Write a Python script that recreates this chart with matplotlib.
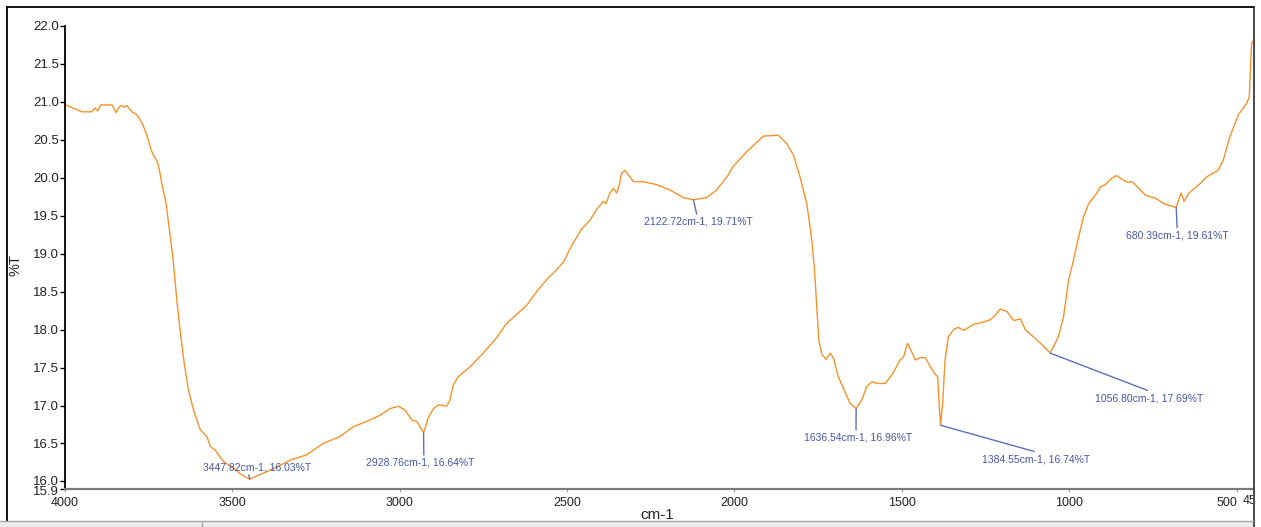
import matplotlib
matplotlib.use("Agg")
import matplotlib.pyplot as plt
from matplotlib.lines import Line2D
from matplotlib.patches import Rectangle
from matplotlib.transforms import Bbox, TransformedBbox, ScaledTranslation

plt.rcParams['font.family'] = ['Liberation Sans', 'DejaVu Sans']

# FT-IR spectrum (wavenumber in cm-1, transmittance in %T)
wavenumber = [
    3997, 3950, 3920, 3910, 3903, 3893, 3860, 3847, 3837, 3830, 3823, 3815,
    3800, 3785, 3770, 3762, 3754, 3743, 3736, 3724, 3717, 3711, 3698, 3688, 3678, 3666,
    3656, 3644, 3631, 3616, 3596, 3576, 3566, 3551, 3526, 3496, 3470, 3447.82,
    3407, 3367, 3328, 3278, 3229, 3179, 3139, 3099, 3059, 3029, 3004, 2984,
    2964, 2949, 2928.76, 2914, 2899, 2884, 2860, 2850, 2840, 2825, 2790, 2751,
    2711, 2681, 2651, 2621, 2591, 2561, 2531, 2511, 2486, 2456, 2432, 2412,
    2392, 2384, 2372, 2362, 2352, 2344, 2337, 2327, 2317, 2302, 2273, 2233,
    2193, 2153, 2122.72, 2083, 2053, 2018, 2004, 1964, 1914, 1869, 1844, 1824,
    1804, 1784, 1769, 1761, 1754, 1748, 1739, 1726, 1714, 1704, 1690, 1675,
    1655, 1636.54, 1620, 1605, 1590, 1570, 1550, 1530, 1505, 1495, 1483, 1473,
    1460, 1445, 1430, 1415, 1402, 1393, 1388, 1384.55, 1378, 1371, 1361, 1345,
    1333, 1315, 1285, 1256, 1236, 1221, 1206, 1186, 1166, 1146, 1131, 1106,
    1081, 1056.80, 1032, 1017, 1002, 987, 972, 957, 942, 922, 907, 892,
    877, 859, 842, 827, 812, 792, 772, 742, 718, 698, 680.39, 666,
    657, 642, 610, 590, 555, 540, 520, 495, 470, 462, 458, 455, 451,
]
transmittance = [
    20.96, 20.87, 20.87, 20.92, 20.88, 20.96, 20.96, 20.86, 20.94, 20.95, 20.93, 20.95,
    20.87, 20.83, 20.72, 20.64, 20.54, 20.37, 20.30, 20.21, 20.08, 19.93, 19.66, 19.31, 18.96, 18.39,
    17.99, 17.56, 17.20, 16.94, 16.68, 16.59, 16.46, 16.41, 16.26, 16.17, 16.08, 16.03,
    16.11, 16.19, 16.28, 16.35, 16.50, 16.59, 16.72, 16.79, 16.87, 16.96, 16.99, 16.94,
    16.81, 16.79, 16.64, 16.85, 16.96, 17.01, 16.99, 17.07, 17.27, 17.38, 17.51, 17.69,
    17.89, 18.08, 18.20, 18.32, 18.50, 18.66, 18.79, 18.89, 19.11, 19.33, 19.44, 19.58,
    19.69, 19.66, 19.80, 19.86, 19.80, 19.91, 20.06, 20.10, 20.04, 19.95, 19.95, 19.91,
    19.84, 19.74, 19.71, 19.74, 19.84, 20.04, 20.15, 20.34, 20.55, 20.56, 20.45, 20.30,
    20.01, 19.66, 19.18, 18.79, 18.30, 17.86, 17.67, 17.61, 17.69, 17.62, 17.38, 17.23,
    17.03, 16.96, 17.07, 17.25, 17.31, 17.29, 17.29, 17.40, 17.60, 17.64, 17.82, 17.73,
    17.60, 17.63, 17.63, 17.51, 17.42, 17.38, 16.98, 16.74, 17.03, 17.60, 17.91, 18.00,
    18.03, 17.99, 18.07, 18.10, 18.13, 18.19, 18.27, 18.24, 18.12, 18.14, 18.00, 17.90,
    17.80, 17.69, 17.91, 18.17, 18.65, 18.92, 19.22, 19.49, 19.66, 19.77, 19.88, 19.91,
    19.98, 20.03, 19.98, 19.94, 19.95, 19.86, 19.77, 19.73, 19.66, 19.63, 19.61, 19.80,
    19.69, 19.80, 19.92, 20.01, 20.10, 20.23, 20.54, 20.83, 20.98, 21.07, 21.51, 21.77, 21.80,
]

# Labelled peaks
peak_wavenumber = [3447.82, 2928.76, 2122.72, 1636.54, 1384.55, 1056.80, 680.39]
peak_transmittance = [16.03, 16.64, 19.71, 16.96, 16.74, 17.69, 19.61]

x_ticks = [4000, 3500, 3000, 2500, 2000, 1500, 1000, 500]
y_ticks = [15.9, 16.0, 16.5, 17.0, 17.5, 18.0, 18.5, 19.0, 19.5, 20.0, 20.5, 21.0, 21.5, 22.0]

W, H = 1261, 527
fig = plt.figure(figsize=(W / 100, H / 100), dpi=100)
ax = fig.add_axes([65 / W, 1 - 489 / H, (1253 - 65) / W, (489 - 26) / H])

ax.plot(wavenumber, transmittance, color='#f7922a', lw=1.0, solid_joinstyle='round')

ax.set_xlim(4000, 451)
ax.set_ylim(15.9, 22.0)

for s in ('top', 'right'):
    ax.spines[s].set_visible(False)
ax.spines['left'].set_color('black')
ax.spines['left'].set_linewidth(1.3)
ax.spines['bottom'].set_color('#7a7a7a')
ax.spines['bottom'].set_linewidth(1.6)

ax.set_yticks(y_ticks)
ax.set_yticklabels([f"{v:.1f}" for v in y_ticks])
ax.tick_params(axis='y', direction='out', length=3.5, width=1, color='black',
               labelsize=9.5, labelcolor='#222222', pad=1)
# the two bottom labels sit close together; spread them a little
ylbls = ax.get_yticklabels()
ylbls[0].set_transform(ylbls[0].get_transform() + ScaledTranslation(0, -1.5 / 100, fig.dpi_scale_trans))
ylbls[1].set_transform(ylbls[1].get_transform() + ScaledTranslation(0, 1 / 100, fig.dpi_scale_trans))

ax.set_xticks(x_ticks)
ax.set_xticklabels([str(v) for v in x_ticks])
ax.tick_params(axis='x', direction='out', length=2, width=0.8, color='#9a9a9a',
               labelsize=9, labelcolor='#222222', pad=4)
# nudge the last labelled tick left, away from the axis end label
last_lbl = ax.get_xticklabels()[-1]
last_lbl.set_transform(last_lbl.get_transform() + ScaledTranslation(-10 / 100, 0, fig.dpi_scale_trans))

# axis end label, cut off by the frame
end_lbl = ax.text(451, -0.0135, "450", transform=ax.get_xaxis_transform(),
                  ha='center', va='top', fontsize=9, color='#222222')
end_lbl.set_clip_box(TransformedBbox(Bbox([[0, 0], [1253 / W, 1]]), fig.transFigure))
end_lbl.set_clip_on(True)

fig.text(657 / W, 1 - 515 / H, "cm-1", ha='center', va='center', fontsize=11, color='#222222')
fig.text(15 / W, 1 - 265 / H, "%T", ha='center', va='center', rotation=90,
         fontsize=10.5, color='#222222')

# peak annotations: text offset in pixels and the point on the text where the leader ends
offsets = [(7, 12), (-3, -30), (5, -22), (2, -29), (96, -34), (99, -45), (1, -28)]
leader_rel = [(0.42, 0.0), (0.53, 1.0), (0.49, 1.0), (0.48, 1.0), (0.57, 1.0), (0.55, 1.0), (0.5, 1.0)]
for wn, t, off, rel in zip(peak_wavenumber, peak_transmittance, offsets, leader_rel):
    ax.annotate(f"{wn:.2f}cm-1, {t:.2f}%T", xy=(wn, t), xytext=off,
                textcoords='offset pixels', ha='center', va='center',
                fontsize=7.5, color='#4757a5',
                arrowprops=dict(arrowstyle='-', color='#5d6fba', lw=1.0,
                                shrinkA=0, shrinkB=0, relpos=rel))

# window frame and bottom scroll bar
fig.add_artist(Line2D([6.5 / W, 1254 / W], [1 - 6.5 / H, 1 - 6.5 / H], color='black', lw=1.3))
fig.add_artist(Line2D([6.5 / W, 6.5 / W], [1 - 6.5 / H, 1 - 521 / H], color='black', lw=1.3))
fig.add_artist(Line2D([1253.5 / W, 1253.5 / W], [1 - 6.5 / H, 0], color='#3a3a3a', lw=1.3))
fig.add_artist(Rectangle((0, 0), 1253 / W, 6 / H, transform=fig.transFigure,
                         facecolor='#ececec', edgecolor='none'))
fig.add_artist(Line2D([0, 1253 / W], [6 / H, 6 / H], color='#a8a8a8', lw=1.0))
fig.add_artist(Line2D([202 / W, 202 / W], [0, 6 / H], color='#a8a8a8', lw=1.0))

fig.savefig("out.png", dpi=100)
